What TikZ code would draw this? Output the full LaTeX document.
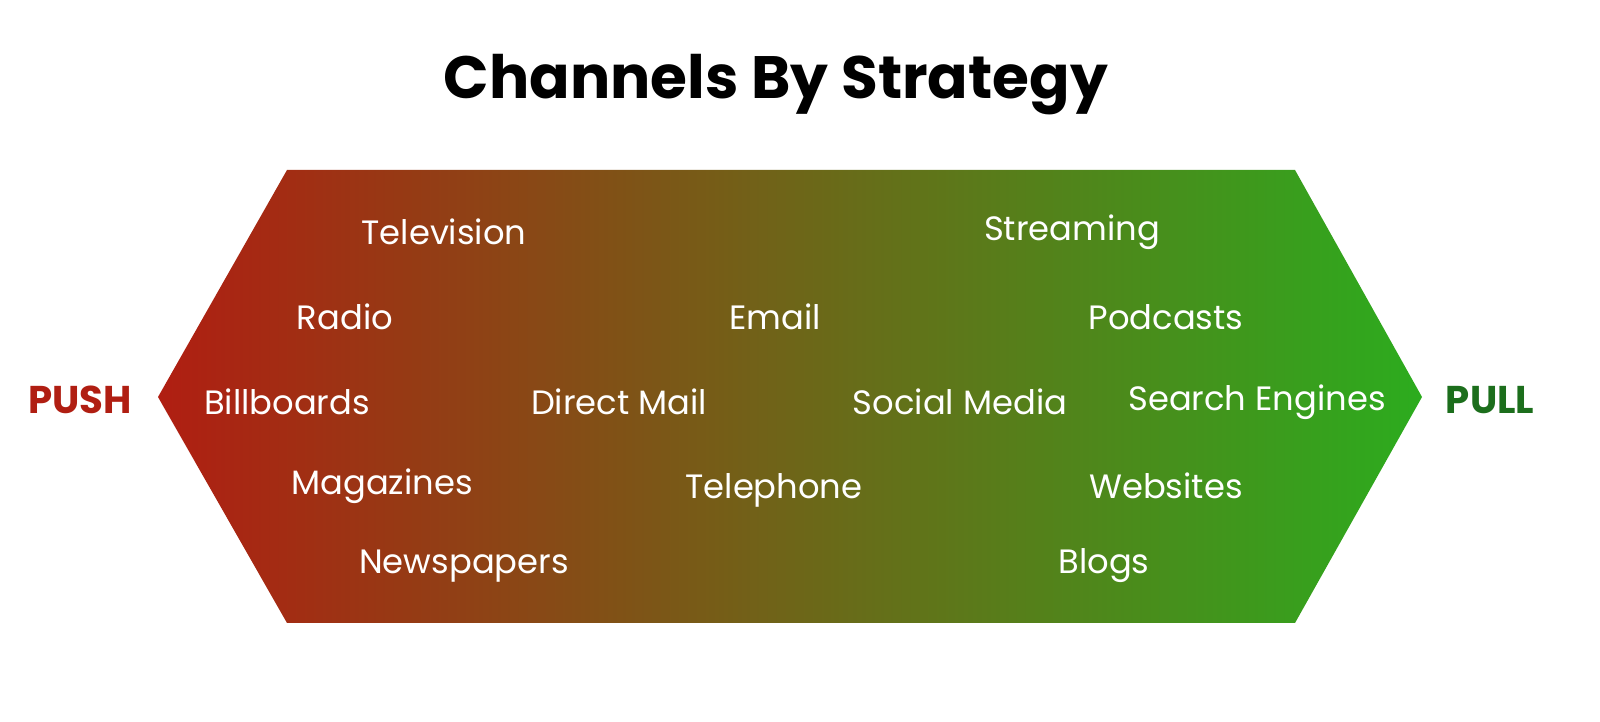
\documentclass[tikz,border=0pt]{standalone}
\usepackage{fontspec}
\setmainfont{Poppins}
\definecolor{pushred}{RGB}{176,30,18}
\definecolor{pullgreen}{RGB}{44,172,30}
\definecolor{pulltext}{RGB}{28,110,28}
\tikzset{
  channel/.style={text=white,font=\fontsize{9.6}{12}\selectfont\mdseries},
  side/.style={font=\fontsize{11}{13}\selectfont\bfseries},
}
\begin{document}
\begin{tikzpicture}[x=0.01cm,y=-0.01cm]
            % Titulo
            \node[font=\fontsize{17}{20}\selectfont\bfseries] (title) at (776,85) {Channels By Strategy};

            % Hexagono con degradado
            \shade[left color=pushred,right color=pullgreen] (287,170) -- (1295,170) -- (1422,397) -- (1295,623) -- (287,623) -- (158,397) -- cycle;

            % Extremos
            \node[side,text=pushred] (push) at (80,400) {PUSH};
            \node[side,text=pulltext] (pull) at (1490,400) {PULL};

            % Canales
            \node[channel] (tv) at (444,232) {Television};
            \node[channel] (streaming) at (1072,232) {Streaming};
            \node[channel] (radio) at (345,317) {Radio};
            \node[channel] (email) at (775,317) {Email};
            \node[channel] (podcasts) at (1166,317) {Podcasts};
            \node[channel] (billboards) at (287,402) {Billboards};
            \node[channel] (mail) at (619,402) {Direct Mail};
            \node[channel] (social) at (960,402) {Social Media};
            \node[channel] (search) at (1257,402) {Search Engines};
            \node[channel] (magazines) at (382,486) {Magazines};
            \node[channel] (phone) at (774,490) {Telephone};
            \node[channel] (websites) at (1166,486) {Websites};
            \node[channel] (newspapers) at (464,566) {Newspapers};
            \node[channel] (blogs) at (1104,566) {Blogs};

            % Marco
            \pgfresetboundingbox
            \useasboundingbox (0,0) rectangle (1600,722);
        \end{tikzpicture}
\end{document}
